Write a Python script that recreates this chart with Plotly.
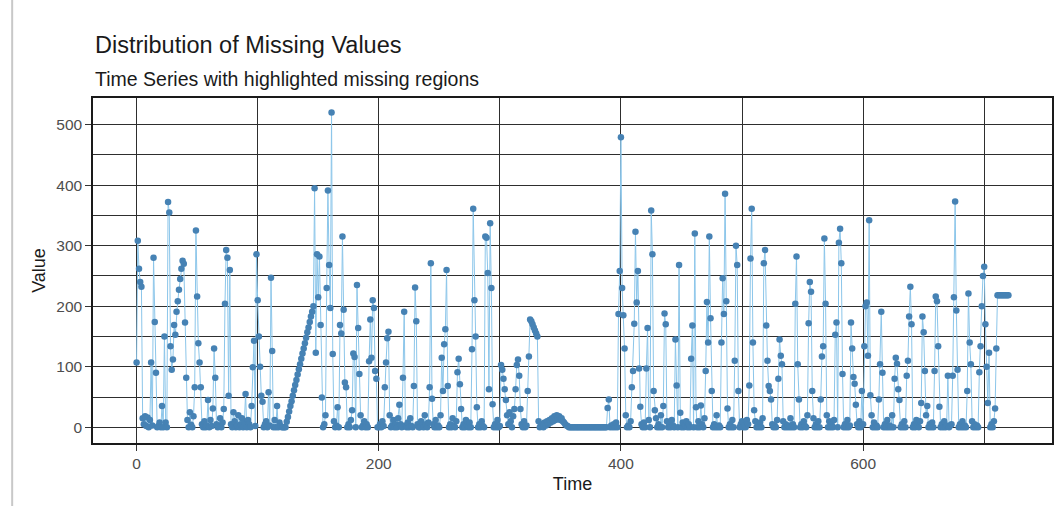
import plotly.graph_objects as go

# Values, 100 time steps per block
values_000_099 = [
    107, 308, 262, 240, 232, 15, 5, 18, 2, 16,
    0, 12, 107, 3, 280, 174, 90, 0, 2, 8,
    0, 35, 0, 150, 8, 0, 372, 355, 134, 95,
    112, 169, 153, 191, 208, 227, 245, 262, 275, 270,
    173, 82, 12, 0, 25, 4, 0, 18, 66, 325,
    216, 139, 107, 66, 5, 0, 10, 0, 3, 45,
    0, 12, 2, 31, 130, 82, 5, 0, 2, 15,
    0, 8, 30, 204, 293, 280, 52, 260, 5, 0,
    25, 10, 0, 3, 20, 0, 5, 15, 0, 8,
    55, 0, 12, 5, 0, 35, 99, 143, 2, 286,
]
values_100_199 = [
    210, 150, 100, 52, 42, 0, 5, 10, 0, 58,
    3, 247, 126, 0, 12, 0, 35, 0, 8, 2,
    0, 0, 0, 0, 9, 17, 26, 35, 43, 52,
    61, 70, 78, 87, 96, 104, 113, 122, 130, 139,
    148, 157, 165, 174, 183, 191, 200, 395, 123, 286,
    215, 282, 169, 49, 0, 5, 20, 230, 391, 268,
    197, 520, 121, 10, 0, 3, 33, 0, 169, 155,
    315, 194, 74, 66, 0, 5, 0, 12, 28, 122,
    116, 0, 235, 164, 88, 20, 0, 3, 10, 0,
    5, 0, 109, 178, 115, 210, 197, 93, 80, 0,
]
values_200_299 = [
    0, 5, 0, 10, 2, 66, 107, 147, 158, 20,
    0, 3, 12, 0, 5, 0, 15, 37, 5, 0,
    82, 191, 3, 0, 8, 0, 15, 2, 0, 68,
    231, 175, 5, 0, 0, 10, 3, 0, 20, 5,
    0, 8, 66, 271, 47, 5, 0, 12, 0, 3,
    0, 20, 115, 60, 137, 162, 260, 68, 0, 5,
    0, 15, 2, 0, 10, 91, 113, 71, 30, 0,
    5, 0, 12, 3, 0, 8, 0, 129, 361, 210,
    150, 33, 0, 5, 0, 10, 2, 0, 315, 313,
    255, 63, 337, 230, 38, 0, 5, 0, 12, 0,
]
values_300_399 = [
    2, 103, 95, 80, 63, 45, 20, 5, 25, 10,
    0, 18, 30, 63, 103, 112, 85, 30, 5, 0,
    10, 0, 3, 60, 117, 178, 175, 170, 165, 160,
    155, 150, 10, 0, 5, 2, 0, 8, 3, 10,
    5, 12, 8, 15, 10, 18, 12, 20, 15, 18,
    12, 15, 10, 8, 5, 3, 2, 0, 0, 0,
    0, 0, 0, 0, 0, 0, 0, 0, 0, 0,
    0, 0, 0, 0, 0, 0, 0, 0, 0, 0,
    0, 0, 0, 0, 0, 0, 0, 0, 0, 32,
    46, 0, 3, 0, 5, 0, 8, 0, 187, 258,
]
values_400_499 = [
    479, 230, 185, 130, 20, 0, 3, 0, 10, 66,
    93, 171, 323, 206, 258, 97, 34, 5, 0, 8,
    0, 97, 164, 12, 0, 358, 286, 60, 28, 15,
    0, 5, 0, 20, 0, 35, 188, 170, 10, 0,
    5, 0, 12, 3, 0, 145, 69, 0, 268, 24,
    0, 8, 0, 3, 10, 0, 5, 0, 113, 168,
    0, 320, 33, 0, 10, 0, 36, 5, 0, 15,
    93, 207, 140, 315, 180, 60, 0, 5, 0, 20,
    0, 3, 0, 140, 246, 187, 386, 208, 31, 0,
    5, 0, 12, 0, 110, 300, 268, 60, 0, 5,
]
values_500_599 = [
    10, 0, 3, 0, 12, 5, 69, 279, 361, 140,
    28, 10, 0, 5, 0, 8, 0, 15, 271, 293,
    168, 110, 68, 60, 46, 5, 0, 3, 0, 12,
    80, 145, 118, 104, 10, 0, 5, 0, 3, 0,
    15, 0, 5, 0, 204, 282, 104, 46, 0, 5,
    0, 10, 2, 0, 20, 172, 240, 224, 60, 15,
    0, 5, 0, 10, 0, 46, 117, 134, 312, 204,
    20, 0, 10, 0, 5, 0, 12, 153, 173, 0,
    305, 328, 271, 88, 0, 5, 0, 12, 0, 3,
    173, 130, 83, 72, 37, 5, 0, 10, 0, 60,
]
values_600_699 = [
    5, 134, 200, 206, 118, 342, 53, 20, 0, 8,
    0, 3, 0, 46, 104, 191, 90, 0, 5, 0,
    12, 0, 3, 0, 20, 0, 80, 115, 105, 63,
    45, 0, 5, 0, 10, 0, 85, 110, 183, 232,
    170, 0, 5, 0, 12, 3, 0, 10, 40, 183,
    157, 93, 20, 35, 0, 5, 0, 8, 0, 93,
    216, 208, 134, 34, 0, 5, 0, 10, 0, 3,
    85, 0, 3, 5, 85, 215, 373, 193, 95, 0,
    5, 0, 10, 0, 3, 0, 60, 221, 140, 104,
    10, 0, 5, 0, 3, 0, 91, 134, 200, 250,
]
values_700_720 = [
    265, 170, 100, 40, 123, 0, 5, 0, 10, 31, 130,
    218, 218, 218, 218, 218, 218, 218, 218, 218, 218,
]

values = (values_000_099 + values_100_199 + values_200_299 + values_300_399
          + values_400_499 + values_500_599 + values_600_699 + values_700_720)
time = list(range(len(values)))

x_ticks = [0, 200, 400, 600]
y_ticks = [0, 100, 200, 300, 400, 500]

FONT = "Liberation Sans, Arial, sans-serif"
GRID = "#2e2e2e"

fig = go.Figure()
fig.add_trace(go.Scatter(
    x=time, y=values, mode="lines",
    line=dict(color="#8cc6ea", width=1),
    hoverinfo="skip", showlegend=False,
))
fig.add_trace(go.Scatter(
    x=time, y=values, mode="markers",
    marker=dict(color="#4682B4", size=6.5, line=dict(width=0)),
    showlegend=False,
))

fig.update_layout(
    width=1060, height=506,
    margin=dict(l=93, r=6, t=98, b=63),
    paper_bgcolor="white", plot_bgcolor="white",
    font=dict(family=FONT, color="#4d4d4d"),
    showlegend=False,
    annotations=[
        dict(text="Distribution of Missing Values", xref="paper", yref="paper",
             x=0, y=1.155, xanchor="left", yanchor="middle", showarrow=False,
             font=dict(family=FONT, size=23.5, color="#1a1a1a")),
        dict(text="Time Series with highlighted missing regions", xref="paper", yref="paper",
             x=0, y=1.056, xanchor="left", yanchor="middle", showarrow=False,
             font=dict(family=FONT, size=19.5, color="#1a1a1a")),
    ],
    shapes=[
        dict(type="line", xref="paper", yref="paper", x0=-81/961, x1=-81/961,
             y0=-63/345, y1=1 + 98/345, line=dict(color="#c8c8c8", width=2)),
    ],
)

fig.update_xaxes(
    range=[-36, 756], tickvals=x_ticks, ticktext=[str(v) for v in x_ticks],
    showgrid=True, gridcolor=GRID, gridwidth=1.3,
    minor=dict(dtick=100, tick0=0, showgrid=True, gridcolor=GRID, gridwidth=1.3),
    zeroline=False,
    ticks="outside", ticklen=6, tickwidth=1.3, tickcolor="#333333",
    tickfont=dict(family=FONT, size=15.5, color="#4d4d4d"),
    showline=True, mirror=True, linecolor="#1a1a1a", linewidth=1.5,
    title=dict(text="Time", font=dict(family=FONT, size=18, color="#1a1a1a"), standoff=6),
)
fig.update_yaxes(
    range=[-26, 544], tickvals=y_ticks, ticktext=[str(v) for v in y_ticks],
    showgrid=True, gridcolor=GRID, gridwidth=1.3,
    minor=dict(dtick=50, tick0=0, showgrid=True, gridcolor=GRID, gridwidth=1.3),
    zeroline=False,
    ticks="outside", ticklen=6, tickwidth=1.3, tickcolor="#333333",
    tickfont=dict(family=FONT, size=15.5, color="#4d4d4d"),
    showline=True, mirror=True, linecolor="#1a1a1a", linewidth=1.5,
    title=dict(text="Value", font=dict(family=FONT, size=18, color="#1a1a1a"), standoff=6),
)

fig.write_html("out.html")
